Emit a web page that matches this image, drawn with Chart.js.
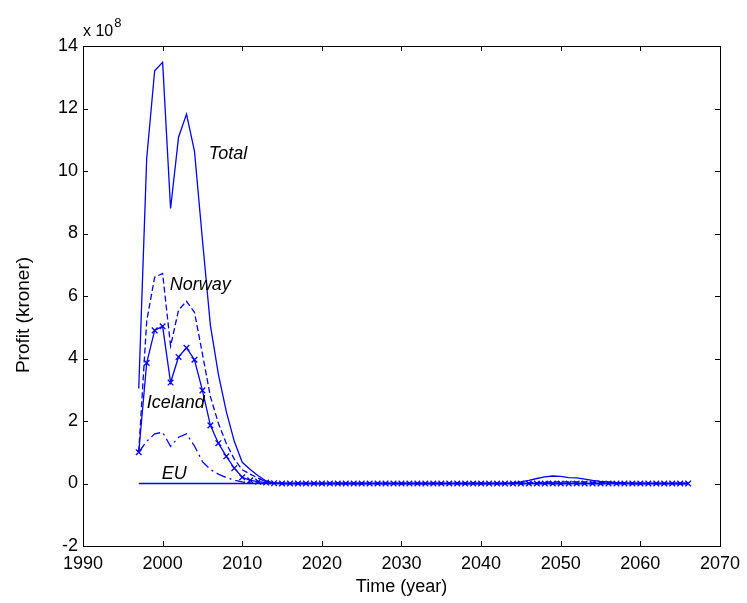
<!DOCTYPE html>
<html>
<head>
<meta charset="utf-8">
<script src="https://cdn.jsdelivr.net/npm/chart.js@4.4.1/dist/chart.umd.min.js"></script>
<style>
html,body{margin:0;padding:0;background:#ffffff;}
canvas{display:block;}
</style>
</head>
<body>
<canvas id="c" width="747" height="603"></canvas>
<script>
// ---------------- data (values in units of 10^8 kroner) ----------------
const years = [1997,1998,1999,2000,2001,2002,2003,2004,2005,2006,2007,2008,2009,2010,2011,2012,2013,2014,
  2015,2016,2017,2018,2019,2020,2021,2022,2023,2024,2025,2026,2027,2028,2029,2030,2031,2032,2033,2034,2035,
  2036,2037,2038,2039,2040,2041,2042,2043,2044,2045,2046,2047,2048,2049,2050,2051,2052,2053,2054,2055,2056,
  2057,2058,2059,2060,2061,2062,2063,2064,2065,2066];

const totalValues = [3.04,10.4,13.21,13.48,8.8,11.08,11.82,10.64,7.8,5.06,3.5,2.3,1.35,0.68,0.45,0.25,0.08,0.02,
  0,0,0,0,0,0,0,0,0,0,0,0,0,0,0,0,0,0,0,0,0,0,0,0,0,0,0,0,0,
  0.02,0.05,0.1,0.16,0.21,0.24,0.23,0.19,0.18,0.14,0.1,0.07,0.05,0.03,0.01,
  0,0,0,0,0,0,0,0];

const norwayValues = [1.0,5.2,6.6,6.72,4.4,5.55,5.83,5.48,4.15,2.78,1.93,1.28,0.78,0.44,0.3,0.17,0.05,0.01,
  0,0,0,0,0,0,0,0,0,0,0,0,0,0,0,0,0,0,0,0,0,0,0,0,0,0,0,0,0,
  0,0.01,0.02,0.03,0.04,0.05,0.05,0.05,0.05,0.05,0.04,0.04,0.03,0.02,0.01,
  0,0,0,0,0,0,0,0];

const icelandValues = [1.0,3.86,4.9,5.03,3.23,4.05,4.34,3.96,2.98,1.86,1.29,0.87,0.49,0.2,0.1,0.06,0.03,0.01,
  0,0,0,0,0,0,0,0,0,0,0,0,0,0,0,0,0,0,0,0,0,0,0,0,0,0,0,0,0,
  0,0,0,0,0,0,0,0,0,0,0,0,0,0,0,
  0,0,0,0,0,0,0,0];

const otherValues = [1.0,1.35,1.59,1.64,1.19,1.48,1.59,1.2,0.7,0.45,0.3,0.19,0.11,0.05,0.02,0.01,0,0,
  0,0,0,0,0,0,0,0,0,0,0,0,0,0,0,0,0,0,0,0,0,0,0,0,0,0,0,0,0,
  0,0,0,0,0,0,0,0,0,0,0,0,0,0,0,
  0,0,0,0,0,0,0,0];

const euValues = [0,0,0,0,0,0,0,0,0,0,0,0,0,0,0,0,0,0,
  0,0,0,0,0,0,0,0,0,0,0,0,0,0,0,0,0,0,0,0,0,0,0,0,0,0,0,0,0,
  0,0,0,0,0,0,0,0,0,0,0,0,0,0,0,
  0,0,0,0,0,0,0,0];

const xTickValues = [1990,2000,2010,2020,2030,2040,2050,2060,2070];
const yTickValues = [-2,0,2,4,6,8,10,12,14];

// in-plot text labels: [text, year, value]
const annotations = [
  ['Total', 2005.8, 10.4],
  ['Norway', 2000.9, 6.18],
  ['Iceland', 1998.0, 2.43],
  ['EU', 1999.9, 0.16]
];

// ---------------- chart ----------------
const FONT = "'Liberation Sans', Arial, Helvetica, sans-serif";
const BLUE = '#0000ff';
const pts = vals => years.map((yr, i) => ({x: yr, y: vals[i]}));

const framePlugin = {
  id: 'frame',
  afterDraw(chart) {
    const {ctx, chartArea: a, scales: {x, y}} = chart;
    ctx.save();
    ctx.strokeStyle = '#000';
    ctx.lineWidth = 1;
    ctx.strokeRect(Math.round(a.left) + 0.5, Math.round(a.top) + 0.5,
                   Math.round(a.right - a.left), Math.round(a.bottom - a.top));
    ctx.beginPath();
    xTickValues.forEach(v => {
      const px = Math.round(x.getPixelForValue(v)) + 0.5;
      ctx.moveTo(px, a.bottom); ctx.lineTo(px, a.bottom - 5);
      ctx.moveTo(px, a.top); ctx.lineTo(px, a.top + 5);
    });
    yTickValues.forEach(v => {
      const py = Math.round(y.getPixelForValue(v)) + 0.5;
      ctx.moveTo(a.left, py); ctx.lineTo(a.left + 5, py);
      ctx.moveTo(a.right, py); ctx.lineTo(a.right - 5, py);
    });
    ctx.stroke();

    ctx.fillStyle = '#000';
    ctx.textBaseline = 'alphabetic';
    ctx.textAlign = 'left';
    ctx.font = 'italic 18px ' + FONT;
    annotations.forEach(([t, xv, yv]) => {
      ctx.fillText(t, x.getPixelForValue(xv), y.getPixelForValue(yv));
    });

    // exponent label
    ctx.font = '16px ' + FONT;
    ctx.fillText('x 10', a.left, a.top - 10);
    const w = ctx.measureText('x 10').width;
    ctx.font = '13px ' + FONT;
    ctx.fillText('8', a.left + w + 1, a.top - 19);

    // y axis title
    ctx.font = '19px ' + FONT;
    ctx.translate(24, 315);
    ctx.rotate(-Math.PI / 2);
    ctx.textAlign = 'center';
    ctx.textBaseline = 'middle';
    ctx.fillText('Profit (kroner)', 0, 0);
    ctx.restore();
  }
};

const lineBase = {borderColor: BLUE, backgroundColor: BLUE, borderWidth: 1.3, pointRadius: 0, tension: 0, fill: false};

new Chart(document.getElementById('c').getContext('2d'), {
  type: 'line',
  data: {
    datasets: [
      Object.assign({}, lineBase, {label: 'Total', data: pts(totalValues)}),
      Object.assign({}, lineBase, {label: 'Norway', data: pts(norwayValues), borderDash: [6, 3]}),
      Object.assign({}, lineBase, {label: 'Iceland', data: pts(icelandValues),
        pointStyle: 'crossRot', pointRadius: 4, pointBorderWidth: 1.3, pointBorderColor: BLUE}),
      Object.assign({}, lineBase, {label: 'Other', data: pts(otherValues), borderDash: [10, 4, 2, 4]}),
      Object.assign({}, lineBase, {label: 'EU', data: pts(euValues)})
    ]
  },
  options: {
    responsive: false,
    animation: false,
    devicePixelRatio: 1,
    layout: {padding: {left: 0, right: 23, top: 46, bottom: 0}},
    plugins: {legend: {display: false}, tooltip: {enabled: false}},
    scales: {
      x: {
        type: 'linear', min: 1990, max: 2070,
        afterBuildTicks: s => { s.ticks = xTickValues.map(v => ({value: v})); },
        afterFit: s => { s.height = 57; },
        grid: {display: false, drawTicks: false},
        border: {display: false},
        ticks: {color: '#000', font: {size: 18, family: FONT}, padding: 7, maxRotation: 0, autoSkip: false,
                callback: v => String(v)},
        title: {display: true, text: 'Time (year)', color: '#000', font: {size: 18, family: FONT},
                padding: {top: 0, bottom: 5}}
      },
      y: {
        type: 'linear', min: -2, max: 14,
        afterBuildTicks: s => { s.ticks = yTickValues.map(v => ({value: v})); },
        afterFit: s => { s.width = 83; },
        grid: {display: false, drawTicks: false},
        border: {display: false},
        ticks: {color: '#000', font: {size: 18, family: FONT}, padding: 5, autoSkip: false,
                callback: v => String(v)}
      }
    }
  },
  plugins: [framePlugin]
});
</script>
</body>
</html>
